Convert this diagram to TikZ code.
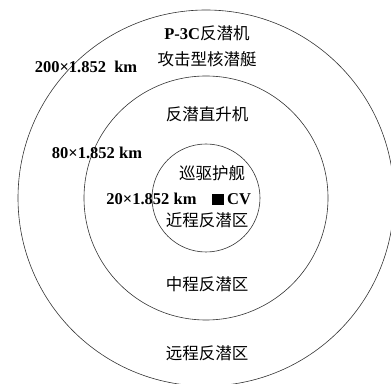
\documentclass[tikz,border=0pt]{standalone}
\usepackage{fontspec}
\setmainfont{Liberation Serif}
\newfontfamily\cjk{Noto Sans CJK SC}
\begin{document}
\begin{tikzpicture}[x=1pt,y=1pt,
  ring/.style={draw=black!80,line width=0.6pt},
  lab/.style={font=\fontsize{16.5}{18}\selectfont\bfseries,inner sep=0pt},
  zh/.style={font=\fontsize{16.5}{18}\selectfont\cjk,inner sep=0pt}]
\useasboundingbox (0,0) rectangle (391,383);
\clip (0,0) rectangle (391,383);
\coordinate (c) at (206,185);
\draw[ring] (c) circle[radius=188];
\draw[ring] (c) circle[radius=122];
\draw[ring] (c) circle[radius=54];
\node[zh] (p3c) at (207,350) {{\rmfamily\bfseries P-3C}反潜机};
\node[zh] (sub) at (207,324) {攻击型核潜艇};
\node[lab] (r200) at (86,316) {200×1.852\ \ km};
\node[zh] (heli) at (207,269) {反潜直升机};
\node[lab] (r80) at (97,230) {80×1.852 km};
\node[zh] (frig) at (212,210) {巡驱护舰};
\node[lab] (r20) at (151.5,184) {20×1.852 km};
\node[fill=black,minimum width=12pt,minimum height=11pt,inner sep=0pt] (cvbox) at (217.5,183.5) {};
\node[lab,anchor=west] (cv) at (227,184) {CV};
\node[zh] (near) at (207,163) {近程反潜区};
\node[zh] (mid) at (207,99) {中程反潜区};
\node[zh] (far) at (207,30) {远程反潜区};
\end{tikzpicture}
\end{document}
